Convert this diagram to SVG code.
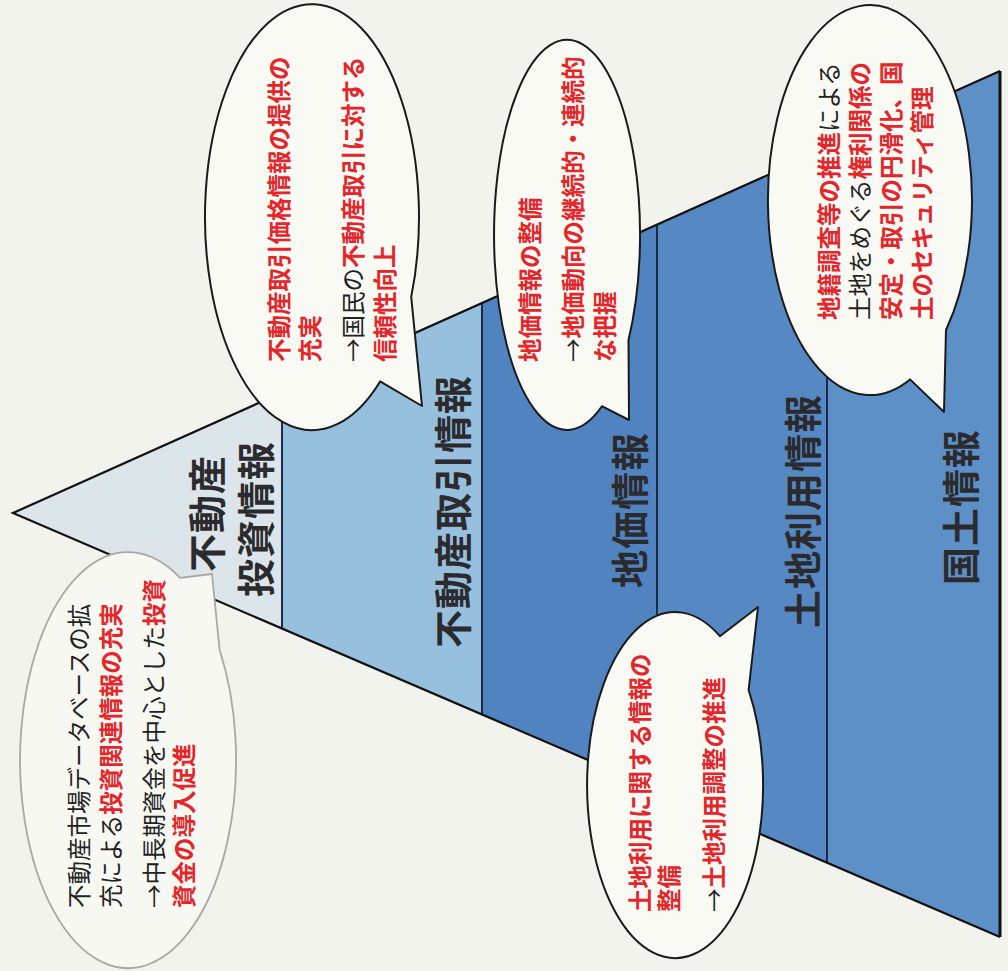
<svg xmlns="http://www.w3.org/2000/svg" width="1008" height="971" viewBox="0 0 1008 971">
<style>
.lbl{font-family:"Noto Sans CJK JP","Noto Sans CJK SC",sans-serif;font-weight:bold;font-size:38px;fill:#2b2b2e;letter-spacing:1px;dominant-baseline:central}
.bt{font-family:"Noto Sans CJK JP","Noto Sans CJK SC",sans-serif;font-size:23.5px;dominant-baseline:central}
.r{fill:#e5252a;font-weight:bold}
.k{fill:#222;font-weight:normal}
.bub{fill:#fafaf4;stroke:#1a1a1a;stroke-width:2;stroke-linejoin:round}
.bub1{fill:#f8f8f2;stroke:#a8a8a4;stroke-width:1.8;stroke-linejoin:round}
.edge{fill:none;stroke:#111;stroke-width:2.2}
.div{stroke:#1b2a48;stroke-width:2}
</style>
<rect width="1008" height="971" fill="#f3f3ee"/>
<g id="pyramid">
  <g id="band-investment">
    <polygon points="13,513 282,392.5 282,628.6" fill="#dce5ea"/>
    <text class="lbl" transform="translate(204,572) rotate(-90)">不動産</text>
    <text class="lbl" transform="translate(253,597) rotate(-90)">投資情報</text>
  </g>
  <g id="band-transaction">
    <polygon points="282,392.5 482,303 482,714.5 282,628.6" fill="#97bfde"/>
    <text class="lbl" transform="translate(450,648) rotate(-90)">不動産取引情報</text>
  </g>
  <g id="band-landprice">
    <polygon points="482,303 657,224.6 657,789.7 482,714.5" fill="#5183c0"/>
    <text class="lbl" transform="translate(627,588) rotate(-90)">地価情報</text>
  </g>
  <g id="band-landuse">
    <polygon points="657,224.6 827,148.5 827,862.7 657,789.7" fill="#5688c3"/>
    <text class="lbl" transform="translate(800,628) rotate(-90)">土地利用情報</text>
  </g>
  <g id="band-national">
    <polygon points="827,148.5 1000,71 1000,937 827,862.7" fill="#5e90c8"/>
    <text class="lbl" transform="translate(958,585) rotate(-90)">国土情報</text>
  </g>
</g>
<g id="connectors">
  <line class="div" x1="282" y1="392.5" x2="282" y2="628.6"/>
  <line class="div" x1="482" y1="303" x2="482" y2="714.5"/>
  <line class="div" x1="657" y1="224.6" x2="657" y2="789.7"/>
  <line class="div" x1="827" y1="148.5" x2="827" y2="862.7"/>
  <polyline class="edge" points="1000,71 13,513 1000,937"/>
  <line x1="1000" y1="71" x2="1000" y2="937" stroke="#111" stroke-width="3"/>
</g>
<g id="bubble-investment">
  <path class="bub1" d="M180,577.8 L212,574 L219.6,649.8 A108,208 0 1 1 180,577.8 Z"/>
  <text class="bt" transform="translate(78,908) rotate(-90)"><tspan class="k">不動産市場データベースの拡</tspan></text>
  <text class="bt" transform="translate(110,908) rotate(-90)"><tspan class="k">充による</tspan><tspan class="r">投資関連情報の充実</tspan></text>
  <text class="bt" transform="translate(153,908) rotate(-90)"><tspan class="k">→中長期資金を中心とした</tspan><tspan class="r">投資</tspan></text>
  <text class="bt" transform="translate(183,908) rotate(-90)"><tspan class="r">資金の導入促進</tspan></text>
</g>
<g id="bubble-transaction">
  <path class="bub" d="M411.2,296.9 L422,406 L380.1,381.4 A107,213 0 1 1 411.2,296.9 Z"/>
  <text class="bt" transform="translate(278,362) rotate(-90)"><tspan class="r">不動産取引価格情報の提供の</tspan></text>
  <text class="bt" transform="translate(309,362) rotate(-90)"><tspan class="r">充実</tspan></text>
  <text class="bt" transform="translate(352,362) rotate(-90)"><tspan class="k">→国民の</tspan><tspan class="r">不動産取引に対する</tspan></text>
  <text class="bt" transform="translate(384,362) rotate(-90)"><tspan class="r">信頼性向上</tspan></text>
</g>
<g id="bubble-landprice">
  <path class="bub" d="M628.5,340.1 L629,420 L601.9,406.2 A73,195 0 1 1 628.5,340.1 Z"/>
  <text class="bt" transform="translate(529,362) rotate(-90)"><tspan class="r">地価情報の整備</tspan></text>
  <text class="bt" transform="translate(572,362) rotate(-90)"><tspan class="k">→</tspan><tspan class="r">地価動向の継続的・連続的</tspan></text>
  <text class="bt" transform="translate(604,362) rotate(-90)"><tspan class="r">な把握</tspan></text>
</g>
<g id="bubble-national">
  <path class="bub" d="M946,330 L944,412 L910,379.4 A102,195 0 1 1 946,330 Z"/>
  <text class="bt" transform="translate(828,320) rotate(-90)"><tspan class="r">地籍調査等の推進</tspan><tspan class="k">による</tspan></text>
  <text class="bt" transform="translate(859,320) rotate(-90)"><tspan class="k">土地をめぐる</tspan><tspan class="r">権利関係の</tspan></text>
  <text class="bt" transform="translate(890,320) rotate(-90)"><tspan class="r">安定・取引の円滑化、国</tspan></text>
  <text class="bt" transform="translate(921,320) rotate(-90)"><tspan class="r">土のセキュリティ管理</tspan></text>
</g>
<g id="bubble-landuse">
  <path class="bub" d="M719.9,636.2 L758,607 L748.6,690 A88,173 0 1 1 719.9,636.2 Z"/>
  <text class="bt" transform="translate(639,912) rotate(-90)"><tspan class="r">土地利用に関する情報の</tspan></text>
  <text class="bt" transform="translate(668,912) rotate(-90)"><tspan class="r">整備</tspan></text>
  <text class="bt" transform="translate(713,912) rotate(-90)"><tspan class="k">→</tspan><tspan class="r">土地利用調整の推進</tspan></text>
</g>
</svg>
